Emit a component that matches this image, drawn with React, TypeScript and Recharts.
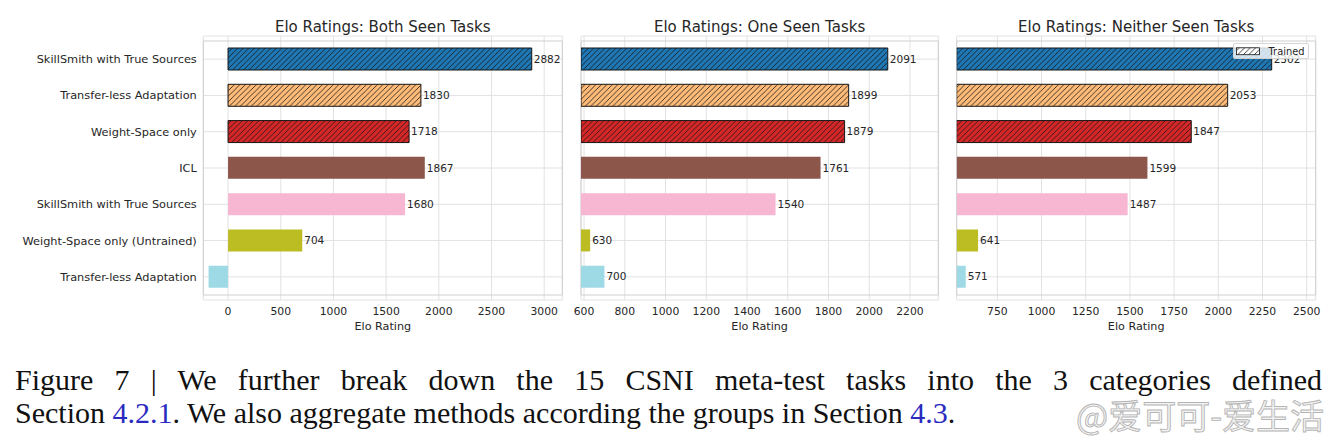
import React from 'react';
import { BarChart, Bar, XAxis, YAxis, CartesianGrid, Cell, LabelList, ReferenceArea } from 'recharts';

// ---- data ----
const categories = [
  'SkillSmith with True Sources',
  'Transfer-less Adaptation',
  'Weight-Space only',
  'ICL',
  'SkillSmith with True Sources',
  'Weight-Space only (Untrained)',
  'Transfer-less Adaptation',
];
const trained = [true, true, true, false, false, false, false];
const colors = ['#1f77b4', '#ffbb78', '#d62728', '#8c564b', '#f7b6d2', '#bcbd22', '#9edae5'];

const bothSeen = [2882, 1830, 1718, 1867, 1680, 704, -185];
const oneSeen = [2091, 1899, 1879, 1761, 1540, 630, 700];
const neitherSeen = [2302, 2053, 1847, 1599, 1487, 641, 571];

const ticksBoth = [0, 500, 1000, 1500, 2000, 2500, 3000];
const ticksOne = [600, 800, 1000, 1200, 1400, 1600, 1800, 2000, 2200];
const ticksNeither = [750, 1000, 1250, 1500, 1750, 2000, 2250, 2500];

const titles = [
  'Elo Ratings: Both Seen Tasks',
  'Elo Ratings: One Seen Tasks',
  'Elo Ratings: Neither Seen Tasks',
];
const xLabel = 'Elo Rating';
const legendLabel = 'Trained';

const FONT = '"DejaVu Sans", sans-serif';
const TEXT = '#262626';
const GRID = '#e2e2e2';
const SPINE = '#cfcfcf';

const CH_H = 345;
const PLOT_TOP = 36;
const XAXIS_H = 45;

type Panel = {
  title: string;
  values: number[];
  ticks: number[];
  domain: [number, number];
  left: number;
  width: number;
  mLeft: number;
  mRight: number;
  yWidth: number;
  showY: boolean;
};

const panels: Panel[] = [
  { title: titles[0], values: bothSeen, ticks: ticksBoth, domain: [-235, 3172], left: 0, width: 580, mLeft: 0, mRight: 17.7, yWidth: 203.3, showY: true },
  { title: titles[1], values: oneSeen, ticks: ticksOne, domain: [585, 2339], left: 565, width: 385, mLeft: 16, mRight: 11.7, yWidth: 0, showY: false },
  { title: titles[2], values: neitherSeen, ticks: ticksNeither, domain: [520, 2551], left: 945, width: 395, mLeft: 11.7, mRight: 24.3, yWidth: 0, showY: false },
];

function rows(values: number[]) {
  return categories.map((name, i) => ({ idx: i, name, value: values[i] }));
}

function PanelChart({ p }: { p: Panel }) {
  const data = rows(p.values);
  return (
    <div style={{ position: 'absolute', left: p.left, top: 0 }}>
      <BarChart
        width={p.width}
        height={CH_H}
        data={data}
        layout="vertical"
        margin={{ top: PLOT_TOP, right: p.mRight, bottom: 0, left: p.mLeft }}
        style={{ fontFamily: FONT }}
      >
        <CartesianGrid stroke={GRID} strokeWidth={1} />
        <XAxis
          type="number"
          domain={p.domain}
          ticks={p.ticks}
          interval={0}
          allowDataOverflow
          axisLine={false}
          tickLine={false}
          tickSize={4}
          tickMargin={3}
          height={XAXIS_H}
          tick={{ fontSize: 10.8, fill: TEXT, fontFamily: FONT }}
        />
        <YAxis
          type="category"
          dataKey="idx"
          hide={!p.showY}
          width={p.yWidth}
          interval={0}
          axisLine={false}
          tickLine={false}
          tickSize={4}
          tickMargin={2.5}
          padding={{ top: 5, bottom: 5 }}
          tickFormatter={(i: number) => categories[i]}
          tick={{ fontSize: 11.35, fill: TEXT, fontFamily: FONT }}
        />
        <Bar dataKey="value" barSize={22} isAnimationActive={false}>
          {data.map((d, i) => (
            <Cell
              key={i}
              fill={trained[i] ? `url(#hatch-${i})` : colors[i]}
              stroke={trained[i] ? '#151515' : 'none'}
              strokeWidth={trained[i] ? 1 : 0}
            />
          ))}
          <LabelList
            dataKey="value"
            position="right"
            offset={2}
            formatter={(v: any) => (Number(v) < 0 ? '' : String(v))}
            style={{ fontSize: 10.5, fill: TEXT, fontFamily: FONT }}
          />
        </Bar>
        <ReferenceArea
          x1={p.domain[0]}
          x2={p.domain[1]}
          fill="none"
          fillOpacity={0}
          stroke={SPINE}
          strokeWidth={1}
          ifOverflow="visible"
        />
      </BarChart>
    </div>
  );
}

// plot area horizontal extents (for centred titles/labels)
const plotCenters = panels.map((p) => p.left + p.mLeft + p.yWidth + (p.width - p.mLeft - p.mRight - p.yWidth) / 2);

export default function App() {
  return (
    <div
      style={{
        position: 'absolute',
        left: 0,
        top: 0,
        width: 1340,
        height: 442,
        background: '#ffffff',
        overflow: 'hidden',
      }}
    >
      <svg width="0" height="0" style={{ position: 'absolute' }}>
        <defs>
          {colors.map((c, i) => (
            <pattern key={i} id={`hatch-${i}`} patternUnits="userSpaceOnUse" width="5.5" height="5.5">
              <rect width="5.5" height="5.5" fill={c} />
              <path d="M0,5.5 L5.5,0 M-1,1 L1,-1 M4.5,6.5 L6.5,4.5" stroke="#151515" strokeWidth="0.8" />
            </pattern>
          ))}
          <pattern id="hatch-legend" patternUnits="userSpaceOnUse" width="5.5" height="5.5">
            <rect width="5.5" height="5.5" fill="#ffffff" />
            <path d="M0,5.5 L5.5,0 M-1,1 L1,-1 M4.5,6.5 L6.5,4.5" stroke="#151515" strokeWidth="0.8" />
          </pattern>
        </defs>
      </svg>

      {panels.map((p, i) => (
        <PanelChart key={i} p={p} />
      ))}

      <svg
        width={1340}
        height={442}
        style={{ position: 'absolute', left: 0, top: 0, pointerEvents: 'none' }}
      >
        {panels.map((p, i) => (
          <g key={i}>
            <text x={plotCenters[i]} y={32.3} textAnchor="middle" fontFamily={FONT} fontSize={15} fill={TEXT}>
              {p.title}
            </text>
            <text x={plotCenters[i]} y={329.5} textAnchor="middle" fontFamily={FONT} fontSize={11.2} fill={TEXT}>
              {xLabel}
            </text>
          </g>
        ))}
      </svg>

      {/* legend of third panel */}
      <div
        style={{
          position: 'absolute',
          left: 1232.5,
          top: 42.5,
          width: 76,
          height: 16,
          boxSizing: 'border-box',
          background: 'rgba(255,255,255,0.8)',
          border: '1px solid rgba(204,204,204,0.8)',
          borderRadius: 2,
          fontFamily: FONT,
          fontSize: 9.7,
          color: TEXT,
        }}
      >
        <svg width={76} height={16} style={{ position: 'absolute', left: -1, top: -1 }}>
          <rect x={3.5} y={4.8} width={23} height={6.9} fill="url(#hatch-legend)" stroke="#151515" strokeWidth={0.8} />
          <text x={35.5} y={12} fontFamily={FONT} fontSize={9.9} fill={TEXT}>
            {legendLabel}
          </text>
        </svg>
      </div>

      {/* caption */}
      <div
        style={{
          position: 'absolute',
          left: 15,
          top: 365,
          width: 1307,
          fontFamily: '"Liberation Serif", serif',
          fontSize: 30,
          lineHeight: '30px',
          textAlign: 'justify',
          textAlignLast: 'justify',
          color: '#111111',
          whiteSpace: 'normal',
        }}
      >
        Figure 7 | We further break down the 15 CSNI meta-test tasks into the 3 categories defined
      </div>
      <div
        style={{
          position: 'absolute',
          left: 15,
          top: 398,
          width: 1307,
          fontFamily: '"Liberation Serif", serif',
          fontSize: 30,
          lineHeight: '30px',
          textAlign: 'left',
          color: '#111111',
          whiteSpace: 'nowrap',
        }}
      >
        Section <span style={{ color: '#2b2bbf' }}>4.2.1</span>. We also aggregate methods according the groups in Section{' '}
        <span style={{ color: '#2b2bbf' }}>4.3</span>.
      </div>

      {/* watermark */}
      <svg width={1340} height={442} style={{ position: 'absolute', left: 0, top: 0, pointerEvents: 'none' }}>
        <text
          x={1076}
          y={429}
          fontFamily='"Noto Sans CJK SC", sans-serif'
          fontSize={34}
          fill="#f2f2f2"
          fillOpacity={0.9}
          stroke="#b5b5b5"
          strokeWidth={0.9}
        >
          @爱可可-爱生活
        </text>
      </svg>
    </div>
  );
}
